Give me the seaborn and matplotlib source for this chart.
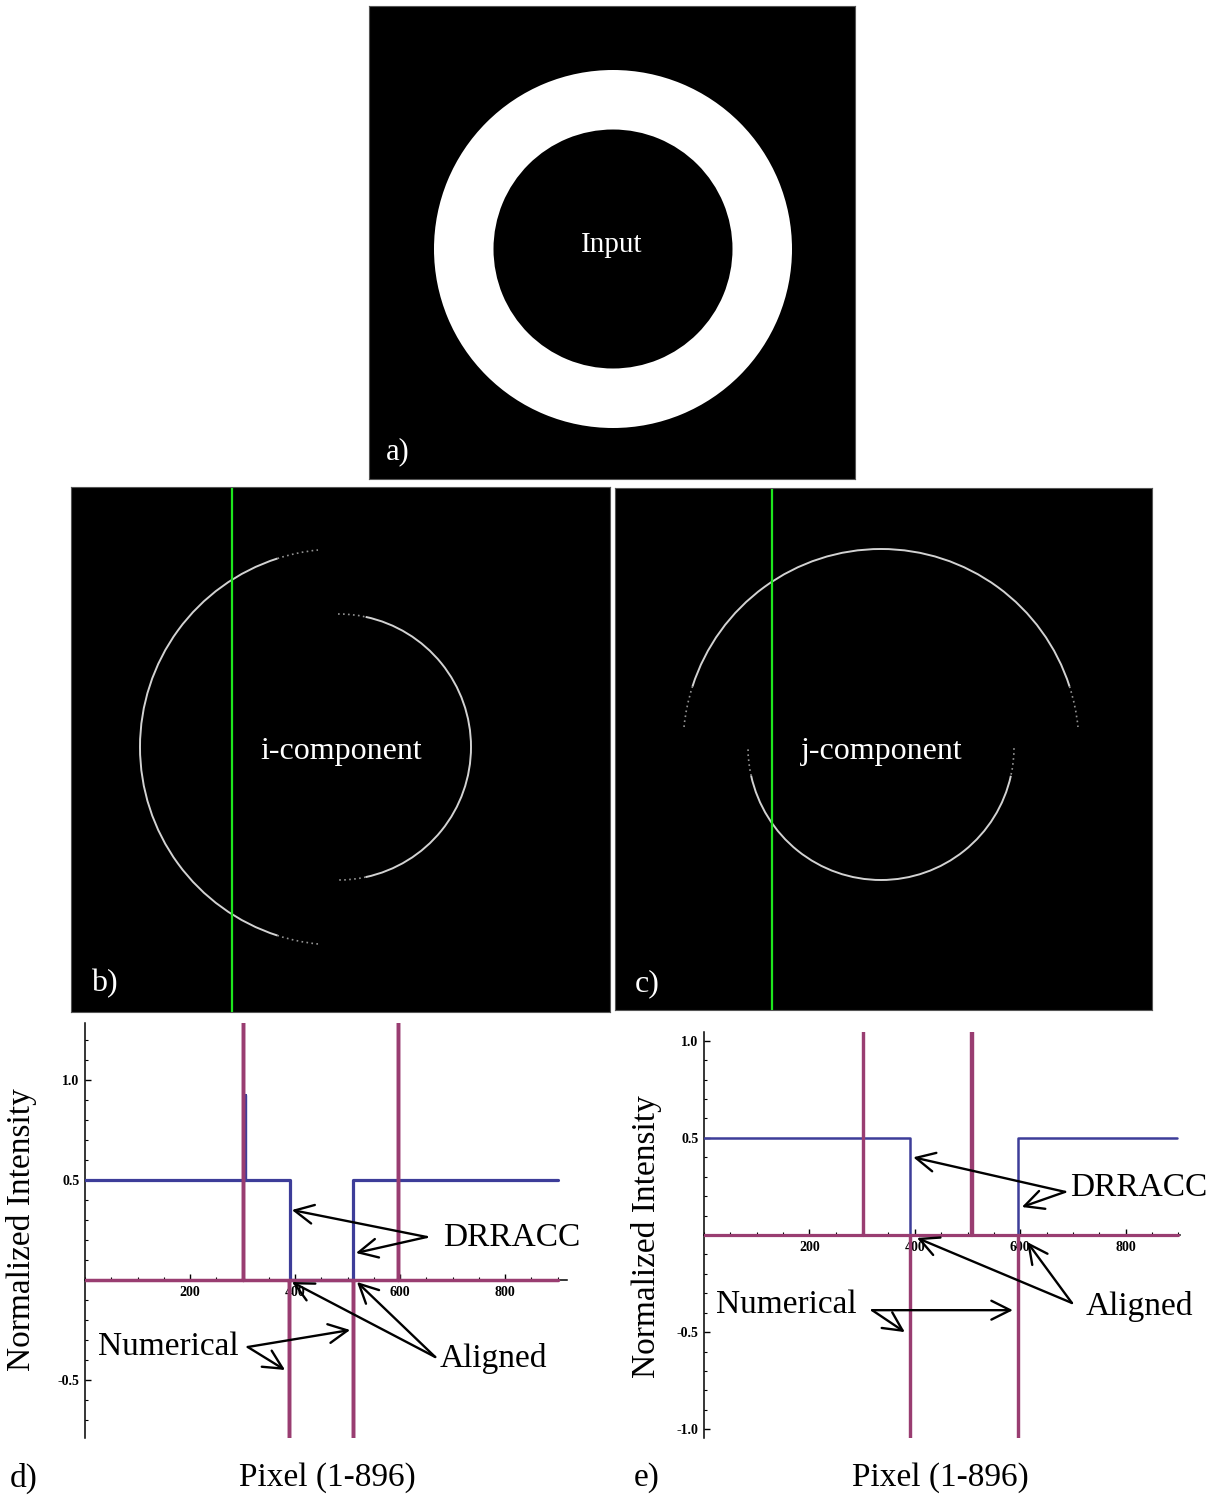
import matplotlib
matplotlib.use("Agg")
import matplotlib.pyplot as plt
import seaborn as sns
from matplotlib.patches import Wedge, Arc
from matplotlib.ticker import MultipleLocator

# ---------------- data ----------------
# panel a: input ring (panel pixel units)
ring_center = (244, 243)
ring_outer_r = 179
ring_inner_r = 119.5

# panel b: i-component arcs
b_center = (267, 260)
b_arc_radii = [198, 133]
b_arc_theta1 = [95.8, -90.0]
b_arc_theta2 = [264.2, 90.0]
b_green_x = 161

# panel c: j-component arcs
c_center = (266, 259)
c_arc_radii = [198, 133]
c_arc_theta1 = [185.8, 0.5]
c_arc_theta2 = [354.2, 179.5]
c_green_x = 157

# panel d: intensity profiles along the green line of b)
d_drracc_x = [0, 305, 305, 305, 390, 390, 510, 510, 900]
d_drracc_y = [0.5, 0.5, 0.925, 0.5, 0.5, 0.0, 0.0, 0.5, 0.5]
d_numer_x = [0, 300, 300, 300, 389, 389, 389, 510, 510, 510, 597, 597, 597, 900]
d_numer_y = [0, 0, 1.6, 0, 0, -1.6, 0, 0, -1.6, 0, 0, 1.6, 0, 0]

# panel e: intensity profiles along the green line of c)
e_drracc_x = [0, 391, 391, 596, 596, 897]
e_drracc_y = [0.5, 0.5, 0.0, 0.0, 0.5, 0.5]
e_numer_x = [0, 302, 302, 302, 391, 391, 391, 507, 507, 507, 509, 509, 509, 596, 596, 596, 900]
e_numer_y = [0, 0, 1.6, 0, 0, -1.6, 0, 0, 1.6, 0, 0, 1.6, 0, 0, -1.6, 0, 0]

x_major_ticks = [200, 400, 600, 800]
x_major_labels = ["200", "400", "600", "800"]
d_y_ticks = [-0.5, 0.5, 1.0]
d_y_labels = ["-0.5", "0.5", "1.0"]
e_y_ticks = [-1.0, -0.5, 0.5, 1.0]
e_y_labels = ["-1.0", "-0.5", "0.5", "1.0"]

# ---------------- style ----------------
sns.set_style("white")
plt.rcParams["font.family"] = ["Liberation Serif", "DejaVu Serif"]
plt.rcParams["text.color"] = "black"
plt.rcParams["xtick.color"] = "black"
plt.rcParams["ytick.color"] = "black"
plt.rcParams["axes.labelcolor"] = "black"

BLUE = "#3D3D99"
PURPLE = "#993D71"
GREEN = "#1EE61E"
ARC = "#d2d2d2"
FADE_DEG = 12  # angular extent of the faint dotted ends of each arc

W, H = 1215, 1498
fig = plt.figure(figsize=(W / 100, H / 100), dpi=100)
fig.patch.set_facecolor("white")


def add_ax(left, top, width, height):
    return fig.add_axes([left / W, 1 - (top + height) / H, width / W, height / H])


def image_panel(left, top, width, height):
    ax = add_ax(left, top, width, height)
    ax.set_facecolor("black")
    ax.set_xlim(0, width)
    ax.set_ylim(height, 0)
    ax.set_xticks([])
    ax.set_yticks([])
    for s in ax.spines.values():
        s.set_color("#555555")
        s.set_linewidth(0.8)
    return ax


def draw_arc(ax, center, r, t1, t2):
    ax.add_patch(Arc(center, 2 * r, 2 * r, theta1=t1 + FADE_DEG, theta2=t2 - FADE_DEG,
                     color=ARC, lw=1.4))
    for a, b in [(t1, t1 + FADE_DEG), (t2 - FADE_DEG, t2)]:
        ax.add_patch(Arc(center, 2 * r, 2 * r, theta1=a, theta2=b,
                         color=ARC, lw=1.2, alpha=0.7, linestyle=(0, (1, 2))))


# ---- panel a ----
axa = image_panel(369, 6, 486, 473)
axa.add_patch(Wedge(ring_center, ring_outer_r, 0, 360,
                    width=ring_outer_r - ring_inner_r,
                    facecolor="white", edgecolor="none"))
axa.text(243, 239, "Input", color="white", ha="center", va="center", fontsize=21)
axa.text(29, 446, "a)", color="white", ha="center", va="center", fontsize=22)

# ---- panel b ----
axb = image_panel(71, 487, 539, 525)
for r, t1, t2 in zip(b_arc_radii, b_arc_theta1, b_arc_theta2):
    draw_arc(axb, b_center, r, t1, t2)
axb.axvline(b_green_x, color=GREEN, lw=1.6)
axb.text(270, 264, "i-component", color="white", ha="center", va="center", fontsize=23)
axb.text(33, 497, "b)", color="white", ha="center", va="center", fontsize=23)

# ---- panel c ----
axc = image_panel(615, 488, 537, 522)
for r, t1, t2 in zip(c_arc_radii, c_arc_theta1, c_arc_theta2):
    draw_arc(axc, c_center, r, t1, t2)
axc.axvline(c_green_x, color=GREEN, lw=1.6)
axc.text(267, 263, "j-component", color="white", ha="center", va="center", fontsize=23)
axc.text(32, 496, "c)", color="white", ha="center", va="center", fontsize=23)


# ---- profile plots ----
def profile_axes(ax, xlim, ylim, yticks, ylabels):
    ax.set_xlim(*xlim)
    ax.set_ylim(*ylim)
    ax.set_facecolor("white")
    for s in ["top", "right"]:
        ax.spines[s].set_visible(False)
    ax.spines["left"].set_position(("data", 0))
    ax.spines["bottom"].set_position(("data", 0))
    for s in ["left", "bottom"]:
        ax.spines[s].set_color("black")
        ax.spines[s].set_linewidth(1.1)
        ax.spines[s].set_zorder(1)
    ax.set_xticks(x_major_ticks, labels=x_major_labels, fontweight="bold", fontsize=10)
    ax.set_yticks(yticks, labels=ylabels, fontweight="bold", fontsize=10)
    ax.xaxis.set_minor_locator(MultipleLocator(50))
    ax.yaxis.set_minor_locator(MultipleLocator(0.1))
    ax.tick_params(which="both", bottom=True, left=True, top=False, right=False)
    ax.tick_params(which="major", direction="in", length=4.5, width=1, color="black", pad=4)
    ax.tick_params(which="minor", direction="in", length=2.5, width=0.8, color="black")
    ax.set_xlabel("")
    ax.set_ylabel("")


def arrows(ax, vertex, tips):
    for tip in tips:
        ax.annotate("", xy=tip, xytext=vertex, annotation_clip=False,
                    arrowprops=dict(arrowstyle="->", lw=1.7, color="black",
                                    mutation_scale=34, shrinkA=0, shrinkB=0),
                    zorder=6)


# panel d
axd = add_ax(85, 1023, 482, 415)
sns.lineplot(x=d_drracc_x, y=d_drracc_y, ax=axd, color=BLUE, linewidth=2.3,
             sort=False, estimator=None, zorder=3)
sns.lineplot(x=d_numer_x, y=d_numer_y, ax=axd, color=PURPLE, linewidth=2.5,
             sort=False, estimator=None, zorder=4)
profile_axes(axd, (0, 918), (-0.79, 1.285), d_y_ticks, d_y_labels)
axd.text(813, 0.21, "DRRACC", ha="center", va="center", fontsize=24, zorder=7)
arrows(axd, (651, 0.215), [(394, 0.35), (516, 0.135)])
axd.text(158, -0.335, "Numerical", ha="center", va="center", fontsize=24, zorder=7)
arrows(axd, (310, -0.335), [(381, -0.45), (505, -0.25)])
axd.text(777, -0.39, "Aligned", ha="center", va="center", fontsize=24, zorder=7)
arrows(axd, (667, -0.385), [(394, -0.01), (518, -0.01)])

# panel e
axe = add_ax(704, 1032, 476, 406)
sns.lineplot(x=e_drracc_x, y=e_drracc_y, ax=axe, color=BLUE, linewidth=1.8,
             sort=False, estimator=None, zorder=3)
sns.lineplot(x=e_numer_x, y=e_numer_y, ax=axe, color=PURPLE, linewidth=2.3,
             sort=False, estimator=None, zorder=4)
profile_axes(axe, (0, 903), (-1.045, 1.045), e_y_ticks, e_y_labels)
axe.text(824, 0.242, "DRRACC", ha="center", va="center", fontsize=24, zorder=7)
arrows(axe, (685, 0.222), [(397, 0.40), (603, 0.144)])
axe.text(157, -0.36, "Numerical", ha="center", va="center", fontsize=24, zorder=7)
arrows(axe, (319, -0.387), [(381, -0.5), (586, -0.387)])
axe.text(825, -0.366, "Aligned", ha="center", va="center", fontsize=24, zorder=7)
arrows(axe, (698, -0.35), [(404, -0.015), (613, -0.036)])


# ---- figure-level labels ----
def ftext(x, y, s, **kw):
    fig.text(x / W, 1 - y / H, s, ha="center", va="center", fontsize=24, **kw)


ftext(22, 1230, "Normalized Intensity", rotation=90)
ftext(647, 1237, "Normalized Intensity", rotation=90)
ftext(327, 1478, "Pixel (1-896)")
ftext(940, 1478, "Pixel (1-896)")
ftext(24, 1478, "d)")
ftext(647, 1478, "e)")

fig.savefig("out.png", dpi=100, facecolor="white")
